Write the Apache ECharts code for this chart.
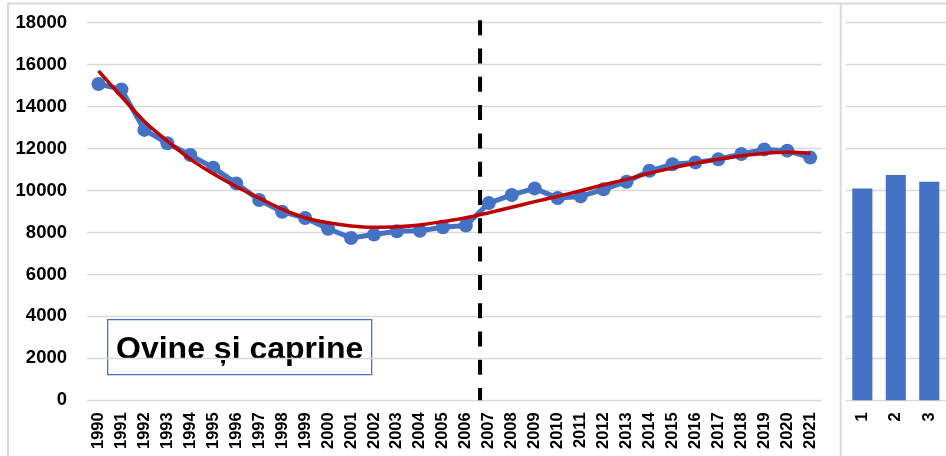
<!DOCTYPE html>
<html>
<head>
<meta charset="utf-8">
<script src="https://cdn.jsdelivr.net/npm/echarts@6/dist/echarts.min.js"></script>
<style>
  html, body { margin: 0; padding: 0; background: #fff; }
  #chart { width: 946px; height: 456px; }
</style>
</head>
<body>
<div id="chart"></div>
<script>
// Ovine și caprine (mii capete), 1990–2021
const years = ['1990','1991','1992','1993','1994','1995','1996','1997','1998','1999',
  '2000','2001','2002','2003','2004','2005','2006','2007','2008','2009','2010','2011',
  '2012','2013','2014','2015','2016','2017','2018','2019','2020','2021'];

const herdValues = [15080, 14820, 12890, 12250, 11690, 11090, 10340, 9550, 8990, 8690,
  8180, 7740, 7900, 8060, 8080, 8250, 8330, 9400, 9790, 10100, 9640, 9720,
  10060, 10420, 10940, 11250, 11340, 11490, 11740, 11960, 11900, 11570];

// polynomial trend, read per year
const trendValues = [15700, 14480, 13290, 12360, 11500, 10800, 10190, 9640, 9110, 8700,
  8460, 8310, 8250, 8270, 8360, 8520, 8700, 8940, 9200, 9470, 9720, 9990,
  10270, 10530, 10820, 11080, 11300, 11490, 11660, 11770, 11820, 11780];

// period averages
const barCategories = ['1', '2', '3'];
const barValues = [10100, 10740, 10420];

const yMin = 0, yMax = 18000, yStep = 2000;
const splitPosition = 17.12; // between 2006 and 2007, on a 0..32 scale

const labelFont = 'Liberation Sans';
const gridColor = '#d9d9d9';
const blue = '#4472C4';

const chart = echarts.init(document.getElementById('chart'), null, { renderer: 'canvas' });

const yAxisBase = {
  type: 'value', min: yMin, max: yMax, interval: yStep,
  axisLine: { show: false }, axisTick: { show: false },
  splitLine: { lineStyle: { color: gridColor, width: 1.3 } }
};

chart.setOption({
  animation: false,
  backgroundColor: '#fff',
  grid: [
    { left: 87, right: 124.3, top: 22.7, bottom: 55.7 },
    { left: 845.6, width: 104.1, top: 22.7, bottom: 55.7 }
  ],
  xAxis: [
    {
      type: 'category', gridIndex: 0, data: years, boundaryGap: true,
      axisLine: { show: false }, axisTick: { show: false },
      axisLabel: { rotate: 90, interval: 0, margin: 12, fontFamily: labelFont,
        fontWeight: 'bold', fontSize: 16.5, color: '#000' }
    },
    {
      type: 'category', gridIndex: 1, data: barCategories,
      axisLine: { show: false }, axisTick: { show: false },
      axisLabel: { rotate: 90, interval: 0, margin: 12, fontFamily: labelFont,
        fontWeight: 'bold', fontSize: 16.5, color: '#000' }
    },
    { type: 'value', gridIndex: 0, min: 0, max: years.length, show: false }
  ],
  yAxis: [
    Object.assign({}, yAxisBase, {
      gridIndex: 0,
      axisLabel: { margin: 20, fontFamily: labelFont, fontWeight: 'bold', fontSize: 18.5,
        color: '#000', formatter: v => String(v) }
    }),
    Object.assign({}, yAxisBase, { gridIndex: 1, axisLabel: { show: false } })
  ],
  series: [
    {
      type: 'line', xAxisIndex: 0, yAxisIndex: 0, data: herdValues,
      lineStyle: { color: blue, width: 5 },
      itemStyle: { color: blue },
      symbol: 'circle', symbolSize: 14, z: 2
    },
    {
      type: 'line', xAxisIndex: 0, yAxisIndex: 0, data: trendValues,
      smooth: 0.35, showSymbol: false,
      lineStyle: { color: '#C00000', width: 3.5 }, z: 3
    },
    {
      type: 'line', xAxisIndex: 2, yAxisIndex: 0, clip: false,
      data: [[splitPosition, 18120], [splitPosition, 0]],
      showSymbol: false,
      lineStyle: { color: '#000', width: 4, type: [15, 13.3] }, z: 4
    },
    {
      type: 'bar', xAxisIndex: 1, yAxisIndex: 1, data: barValues,
      barWidth: '60%', itemStyle: { color: blue }
    }
  ],
  graphic: [
    { type: 'line', shape: { x1: 8, y1: 3.5, x2: 946, y2: 3.5 }, style: { stroke: gridColor, lineWidth: 2 }, silent: true },
    { type: 'line', shape: { x1: 8, y1: 3, x2: 8, y2: 456 }, style: { stroke: gridColor, lineWidth: 2 }, silent: true },
    { type: 'line', shape: { x1: 840.7, y1: 4, x2: 840.7, y2: 456 }, style: { stroke: gridColor, lineWidth: 2 }, silent: true },
    {
      type: 'group', left: 107, top: 319, z: 10,
      children: [
        { type: 'rect', shape: { x: 0, y: 0, width: 264, height: 55 },
          style: { fill: '#fff', stroke: blue, lineWidth: 1.3 } },
        { type: 'text', x: 132, y: 30.5,
          style: { text: 'Ovine și caprine', fontFamily: labelFont, fontWeight: 'bold',
            fontSize: 32, fill: '#000', align: 'center', verticalAlign: 'middle' } }
      ]
    }
  ]
});
</script>
</body>
</html>
